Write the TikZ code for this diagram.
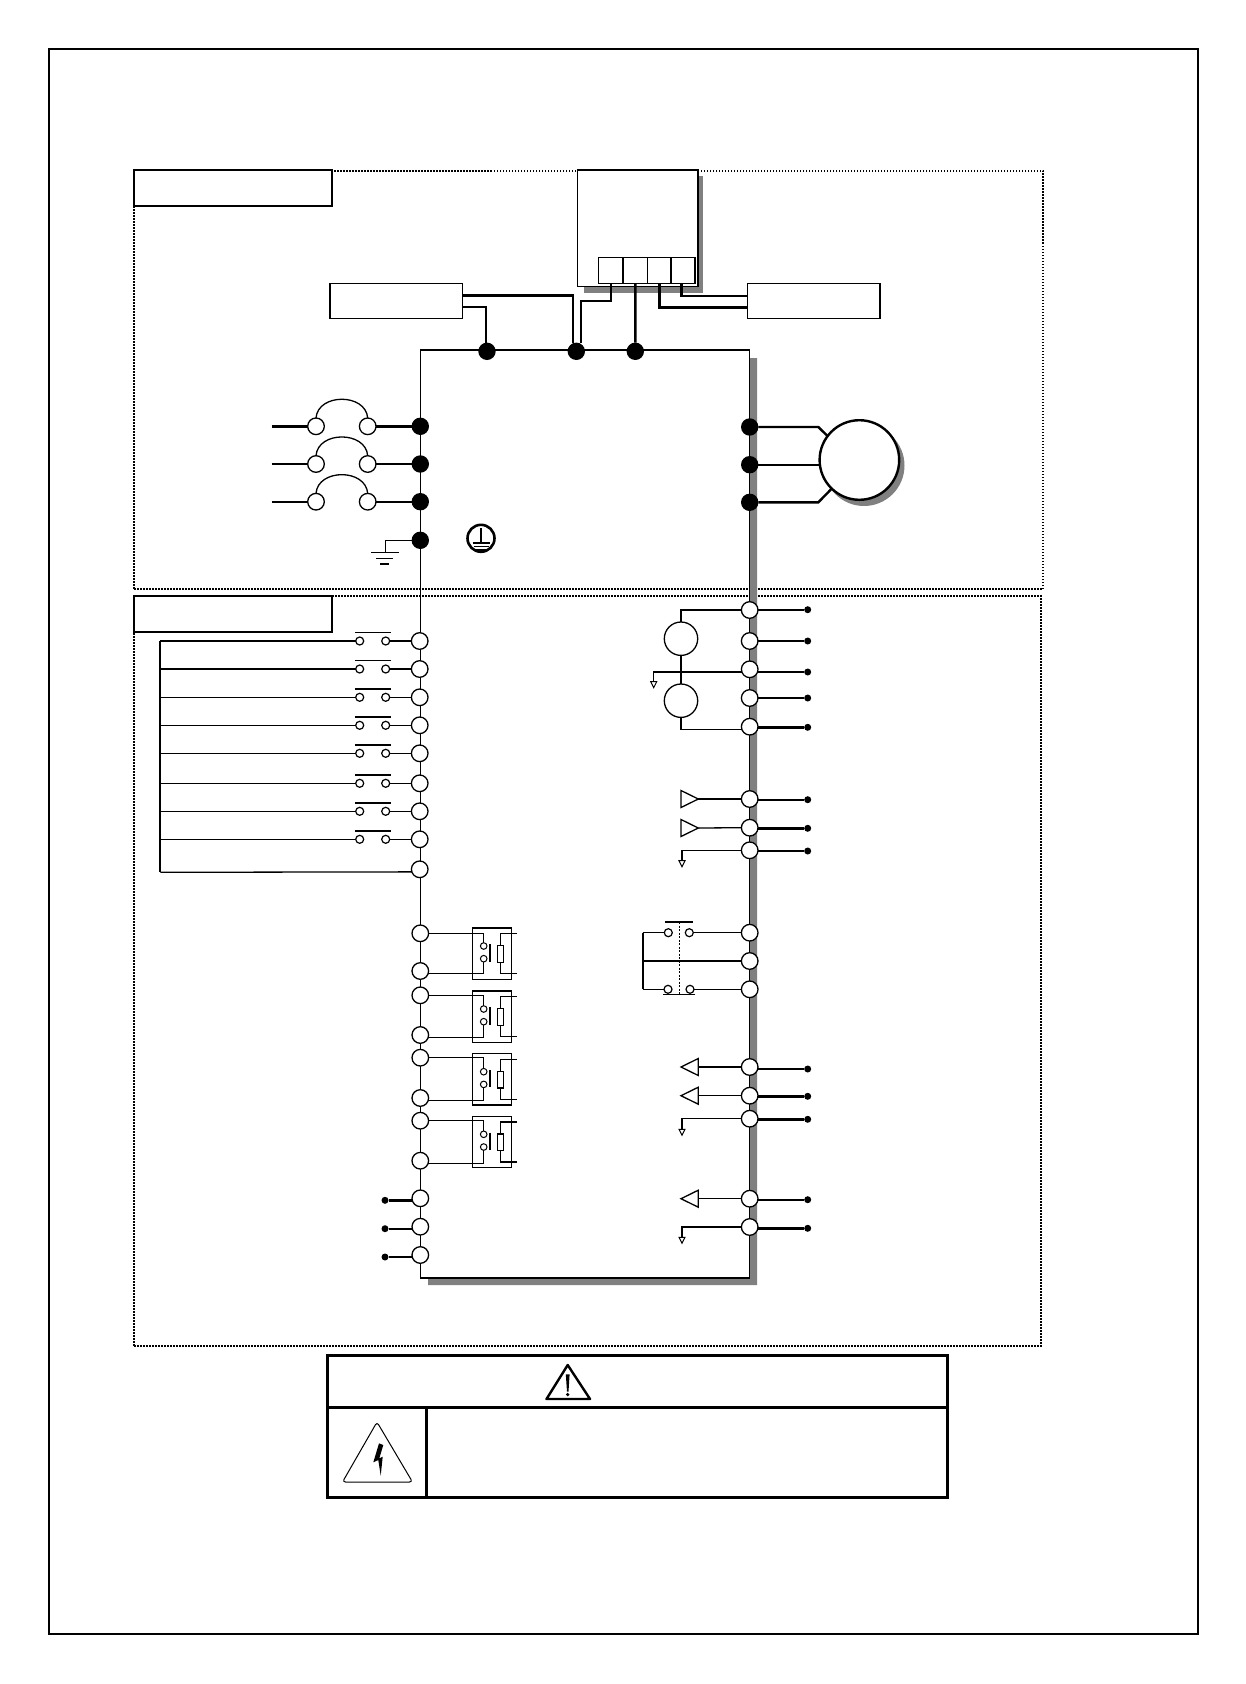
\documentclass[tikz,border=0pt]{standalone}
\usetikzlibrary{positioning, shapes.geometric}
\definecolor{shadowgray}{gray}{0.5}
\tikzset{
  boxnode/.style={draw,fill=white,rectangle,inner sep=0pt,outer sep=0pt,anchor=north west,line width=1.5pt},
  sigterm/.style={draw,fill=white,circle,inner sep=0pt,outer sep=0pt,minimum size=16.6pt,line width=1.3pt},
  smallterm/.style={draw,fill=white,circle,inner sep=0pt,outer sep=0pt,minimum size=8pt,line width=1.2pt},
  relterm/.style={draw,fill=white,circle,inner sep=0pt,outer sep=0pt,minimum size=6.6pt,line width=1pt},
  powdot/.style={fill=black,circle,inner sep=0pt,outer sep=0pt,minimum size=17.4pt},
  enddot/.style={fill=black,circle,inner sep=0pt,outer sep=0pt,minimum size=7pt},
  wirethin/.style={line width=1.3pt},
  wirethick/.style={line width=2.4pt},
  secframe/.style={line width=1.6pt,dash pattern=on 1.5pt off 1.5pt},
  buftri/.style={draw,fill=white,isosceles triangle,isosceles triangle stretches,inner sep=0pt,outer sep=0pt,minimum width=17pt,minimum height=17.3pt,line width=1.3pt},
  gndtri/.style={draw,fill=white,isosceles triangle,isosceles triangle stretches,inner sep=0pt,outer sep=0pt,minimum width=6pt,minimum height=6pt,line width=1pt,shape border rotate=270,anchor=north},
}
\begin{document}
\begin{tikzpicture}[x=1pt,y=-1pt]
\useasboundingbox (0,0) rectangle (1246,1684);
\node[boxnode,fill=none,line width=2pt,minimum width=1149pt,minimum height=1585.3pt] (frame) at (48.7,49) {};
\node[boxnode,fill=none,secframe,minimum width=909pt,minimum height=418pt] (powersec) at (134,171) {};
\node[boxnode,fill=none,secframe,minimum width=907pt,minimum height=749.7pt] (signalsec) at (134,596) {};
\fill[shadowgray] (749.7,358) -- (757,358) -- (757,1285) -- (428,1285) -- (428,1278) -- (749.7,1278) -- cycle;
\node[boxnode,fill=none,line width=1.3pt,minimum width=329.4pt,minimum height=928pt] (drive) at (420.3,350) {};
\node[boxnode,line width=1.8pt,minimum width=198pt,minimum height=36pt] (powerlab) at (134,170) {};
\node[boxnode,line width=1.8pt,minimum width=198pt,minimum height=36pt] (signallab) at (134,596) {};
\fill[shadowgray] (584,176) rectangle (703,292.7);
\node[boxnode,minimum width=120.3pt,minimum height=116.7pt] (keypad) at (577.7,170) {};
\foreach \i/\xx/\ww in {1/598.7/24.3,2/623/24.7,3/647.7/23.3,4/671/24}
  \node[boxnode,minimum width=\ww pt,minimum height=25.6pt] (cell\i) at (\xx,257.7) {};
\node[boxnode,minimum width=132.3pt,minimum height=34.6pt] (brakel) at (330,283.7) {};
\node[boxnode,minimum width=132.3pt,minimum height=34.6pt] (braker) at (747.7,283.7) {};
\foreach \i/\xx in {1/487,2/576.3,3/635.3}
  \node[powdot] (dc\i) at (\xx,351.3) {};
\draw[wirethick] (brakel.east |- 0,295.5) -| ([xshift=-3.6pt]dc2.north);
\draw[wirethick] (brakel.east |- 0,307) -| ([xshift=-1pt]dc1.north);
\draw[wirethick] (cell1.south) |- (580.7,301) -- ([xshift=4.4pt]dc2.north);
\draw[wirethick] (cell2.south) -- (dc3.north);
\draw[wirethick] (cell3.south) |- (braker.west |- 0,307.3);
\draw[wirethick] ([xshift=-1.7pt]cell4.south) |- (braker.west |- 0,295.7);
\foreach \i/\yy in {1/426.3,2/464,3/501.7}{
  \node[powdot] (pin\i) at (420.3,\yy) {};
  \node[sigterm] (fa\i) at (316,\yy) {};
  \node[sigterm] (fb\i) at (367.7,\yy) {};
  \coordinate (fin\i) at (271.7,\yy);
  \draw[wirethick] (fin\i) -- (fa\i.west);
  \draw[wirethick] (fb\i.east) -- (pin\i.west);
  \draw[wirethin] (fa\i.north) .. controls ([shift={(2,-25)}]fa\i.north) and ([shift={(-2,-25)}]fb\i.north) .. (fb\i.north);
}
\node[powdot] (pe) at (420.3,540.3) {};
\coordinate (gndtop) at (385.7,552.7);
\draw[wirethin] (pe.west) -| (gndtop);
\draw[wirethin] (371,552.7) -- (399,552.7) (376,558.4) -- (393,558.4) (380,564) -- (389,564);
\node[draw,circle,inner sep=0pt,minimum size=27pt,line width=2.6pt] (pesym) at (481,538.3) {};
\draw[line width=1.9pt] (481,528) -- (481,542.7) (472.5,542.7) -- (489.5,542.7) (473.5,546.5) -- (488.5,546.5) (476,550) -- (486,550);
\node[circle,fill=shadowgray,inner sep=0pt,minimum size=81pt] (motorshadow) at (864,465.5) {};
\node[draw,circle,fill=white,inner sep=0pt,outer sep=0pt,minimum size=79.6pt,line width=2.4pt] (motor) at (859.4,460) {};
\foreach \i/\yy in {1/427,2/464.7,3/502.3}
  \node[powdot] (mo\i) at (749.7,\yy) {};
\draw[wirethick] (mo1.east) -- (818.3,427) -- (motor.143);
\draw[wirethick] (mo2.east) -- (mo2 -| motor.west);
\draw[wirethick] (mo3.east) -- (818.3,502.3) -- (motor.226);
\coordinate (bust) at (160.3,641);
\coordinate (busb) at (160.3,872.3);
\node[sigterm] (si9) at (419.7,869.3) {};
\draw[line width=1.8pt] (bust) -- (busb);
\draw[wirethin] (busb) -- (si9.198);
\foreach \i/\yy in {1/641,2/669,3/697.3,4/725.3,5/753.3,6/783.3,7/811.3,8/839.3}{
  \node[sigterm] (si\i) at (419.7,\yy) {};
  \node[smallterm] (swa\i) at (359.7,\yy) {};
  \node[smallterm] (swb\i) at (385.7,\yy) {};
  \draw[wirethin] (swa\i.west) -- (swa\i -| bust);
  \draw[wirethin] (swb\i.east) -- (si\i.west);
  \draw[wirethin] ([shift={(-4.7,-8.3)}]swa\i.center) -- ([shift={(5,-8.3)}]swb\i.center);
}
\foreach \i/\rtop/\ya/\yb in {1/928/933.3/971,2/991/995.3/1035,3/1053.7/1057.7/1098,4/1116.3/1120.7/1160.7}{
  \node[sigterm] (ra\i) at (420.3,\ya) {};
  \node[sigterm] (rb\i) at (420.3,\yb) {};
  \node[boxnode,fill=none,line width=1.3pt,minimum width=38.6pt,minimum height=51.3pt] (rly\i) at (472.7,\rtop) {};
  \node[relterm] (ca\i) at (483.7,\rtop+18) {};
  \node[relterm] (cb\i) at (483.7,\rtop+30.7) {};
  \coordinate (pa\i) at (517,\rtop+5.7);
  \coordinate (pb\i) at (517,\rtop+45.7);
  \node[boxnode,anchor=center,line width=1.2pt,minimum width=6pt,minimum height=16.6pt] (res\i) at (500.3,\rtop+26) {};
  \draw[wirethin] (ra\i.east) -| (ca\i.north);
  \draw[wirethin] (cb\i.south) |- (rb\i.-18);
  \draw[wirethin] ([shift={(6.3,-1.7)}]ca\i.center) -- ([shift={(6.3,3)}]cb\i.center);
  \draw[wirethin] (pa\i) -| (res\i.north);
  \draw[wirethin] (pb\i) -| (res\i.south);
}
\foreach \i/\yy in {1/1198.3,2/1226.7,3/1255}{
  \node[sigterm] (ls\i) at (420.3,\yy) {};
  \node[enddot] (lp\i) at (385,\yy+2) {};
  \draw[wirethick] (lp\i) -- (ls\i.west |- lp\i);
}
\foreach \i/\yy/\yd in {1/610/609.7,2/641/641,3/669.3/672,4/698/698,5/726.7/727.3,6/799/799.7,7/827.7/828.3,8/850.3/851,9/1067/1069,10/1095.7/1096.3,11/1118.7/1119.3,12/1198.7/1199.7,13/1227/1228.3}{
  \node[sigterm] (ot\i) at (749.7,\yy) {};
  \node[enddot] (op\i) at (807.7,\yd) {};
  \draw[wirethick] (ot\i.east |- op\i) -- (op\i);
}
\node[draw,circle,inner sep=0pt,outer sep=0pt,minimum size=33.4pt,line width=1.3pt] (src1) at (681,638.7) {};
\node[draw,circle,inner sep=0pt,outer sep=0pt,minimum size=33.4pt,line width=1.3pt] (src2) at (681,700.7) {};
\draw[wirethin] (ot1.west) -| (src1.north);
\draw[wirethin] (src1.south) -- (src2.north);
\draw[wirethin] (src2.south) |- (ot5.200);
\foreach \i/\t/\yy in {1/6/799,2/7/828}{
  \node[buftri,anchor=east] (inp\i) at (698.3,\yy) {};
  \draw[wirethin] (ot\t.west) -- (inp\i.east);
}
\foreach \i/\t/\yy in {1/9/1067,2/10/1095.7,3/12/1198.7}{
  \node[buftri,shape border rotate=180,anchor=west] (outp\i) at (681,\yy) {};
  \draw[wirethin] (ot\t.west) -- (outp\i.east);
}
\foreach \i/\t/\aa/\xx/\yy in {1/3/200/653.7/681.7,2/8/180/682/860.7,3/11/180/682/1129.3,4/13/180/682/1237.3}{
  \node[gndtri] (gnd\i) at (\xx,\yy) {};
  \draw[wirethin] (ot\t.\aa) -| (gnd\i.north);
}
\foreach \i/\yy in {1/932.7,2/961,3/989.3}
  \node[sigterm] (rt\i) at (749.7,\yy) {};
\coordinate (tcbus) at (642.7,932.7);
\coordinate (tcbusb) at (642.7,989.3);
\draw[wirethick] (tcbus) -- (tcbusb);
\draw[wirethick] (tcbus |- rt2) -- (rt2.west);
\node[smallterm] (tca) at (668.3,932.7) {};
\node[smallterm] (tcb) at (689.3,932.7) {};
\node[smallterm] (tcc) at (668,989.3) {};
\node[smallterm] (tcd) at (690,989.3) {};
\draw[wirethin] (tcbus) -- (tca.west);
\draw[wirethin] (tcb.east) -- (rt1.west);
\draw[wirethin] (tcbusb) -- (tcc.west);
\draw[wirethin] (tcd.east) -- (rt3.west);
\draw[wirethin] (665,922) -- (692.7,922);
\draw[wirethin] (663,994.7) -- (695,994.7);
\draw[wirethin,dash pattern=on 2pt off 1.5pt] (679.3,922) -- (679.3,994.7);
\node[boxnode,fill=none,line width=2.8pt,minimum width=620pt,minimum height=142pt] (warnbox) at (327.3,1355.3) {};
\draw[line width=2.7pt] (warnbox.west |- 0,1407.3) -- (warnbox.east |- 0,1407.3);
\draw[line width=2.7pt] (426.7,1407.3) -- (426.7,1497.3);
\draw[line width=2.4pt,line join=round] (567.7,1365) -- (590,1399) -- (546.5,1399) -- cycle;
\fill (565.8,1374.3) -- (569.6,1374.3) -- (568.5,1391.7) -- (567,1391.7) -- cycle;
\fill (567.7,1394.5) circle (1.8);
\draw[line width=1pt,rounded corners=3pt] (377,1422) -- (412.5,1482) -- (342.5,1482) -- cycle;
\fill (379,1443.3) -- (373.3,1462.3) -- (378.3,1460) -- (380.7,1475.7) -- (382.7,1456.7) -- (379.3,1458.3) -- (383.3,1445) -- cycle;
\end{tikzpicture}
\end{document}
